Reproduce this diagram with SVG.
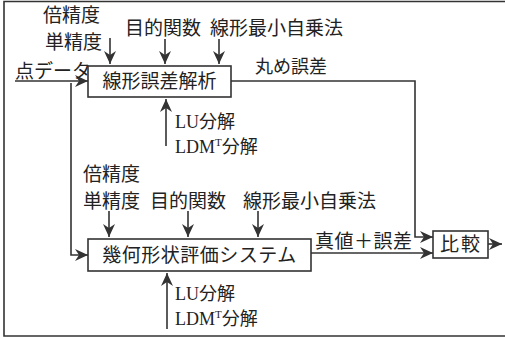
<svg xmlns="http://www.w3.org/2000/svg" width="505" height="338" viewBox="0 0 505 338">
<defs>
<marker id="ah" markerUnits="userSpaceOnUse" markerWidth="14" markerHeight="14" viewBox="0 0 14 14" refX="13" refY="7" orient="auto">
<path d="M0,1 L13,7 L0,13 L4,7 Z" fill="#333"/>
</marker>
<style>
.t{font-family:"Liberation Serif","Noto Sans CJK JP",serif;font-size:19px;fill:#222}
.s{font-size:18px}
.box{fill:#fff;stroke:#333;stroke-width:1.6}
.ln{fill:none;stroke:#333;stroke-width:1.6}
.ar{fill:none;stroke:#333;stroke-width:1.6;marker-end:url(#ah)}
</style>
</defs>
<rect width="505" height="338" fill="#fff"/>
<path class="ln" d="M505,1.5 H4 V336 H505" stroke-width="2"/>
<g id="connectors">
<path class="ar" d="M15,81 H88"/>
<path class="ar" d="M71,83 V255 H88"/>
<path class="ar" d="M110,38 V64"/>
<path class="ar" d="M165,39 V64"/>
<path class="ar" d="M219,39 V64"/>
<path class="ar" d="M166,146 V99"/>
<path class="ar" d="M109,211 V237"/>
<path class="ar" d="M188,211 V237"/>
<path class="ar" d="M258,211 V237"/>
<path class="ar" d="M167,329 V273"/>
<path class="ar" d="M231,81 H415 V237 H433"/>
<path class="ar" d="M311,253 H433"/>
<path class="ar" d="M488,244 H502"/>
</g>
<g id="labels">
<text class="t" x="43" y="22">倍精度</text>
<text class="t" x="45" y="49">単精度</text>
<text class="t" x="125" y="35">目的関数</text>
<text class="t" x="210" y="35">線形最小自乗法</text>
<text class="t" x="15" y="78" font-size="17">点データ</text>
<text class="t s" x="255" y="73">丸め誤差</text>
<text class="t s" x="175" y="128">LU分解</text>
<text class="t s" x="175" y="153">LDM<tspan font-size="11" dy="-7">T</tspan><tspan dy="7">分解</tspan></text>
<text class="t" x="83" y="181">倍精度</text>
<text class="t" x="83" y="208">単精度</text>
<text class="t" x="150" y="208">目的関数</text>
<text class="t" x="243" y="208">線形最小自乗法</text>
<text class="t" x="315" y="248" letter-spacing="0.5">真値＋誤差</text>
<text class="t s" x="175" y="300">LU分解</text>
<text class="t s" x="175" y="325">LDM<tspan font-size="11" dy="-7">T</tspan><tspan dy="7">分解</tspan></text>
</g>
<g id="node-linear">
<rect class="box" x="88" y="66" width="143" height="31"/>
<text class="t" x="159.5" y="88" text-anchor="middle">線形誤差解析</text>
</g>
<g id="node-geom">
<rect class="box" x="88" y="239" width="223" height="32"/>
<text class="t" x="199.5" y="262" text-anchor="middle" letter-spacing="0.5">幾何形状評価システム</text>
</g>
<g id="node-compare">
<rect class="box" x="433" y="231" width="55" height="27"/>
<text class="t" x="461" y="251" text-anchor="middle" letter-spacing="2">比較</text>
</g>
</svg>
